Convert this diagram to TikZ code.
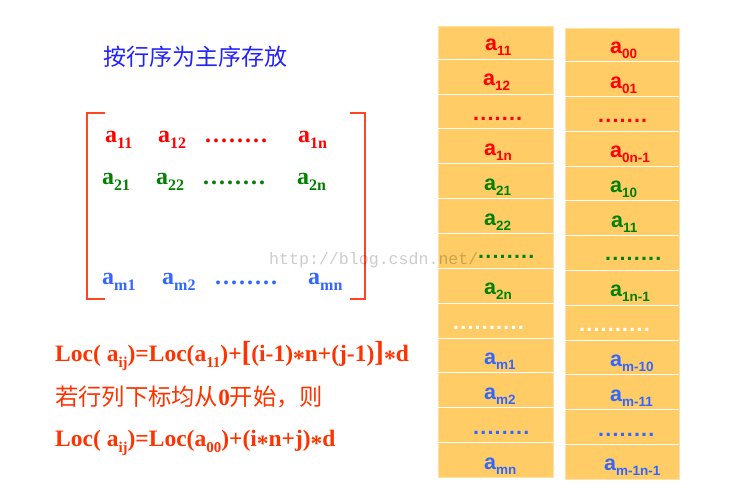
\documentclass[tikz,border=0pt]{standalone}
\usepackage{fontspec}
\usepackage{graphicx}
\setmainfont{Liberation Serif}
\newfontfamily\cjk{Noto Sans CJK SC}
\newfontfamily\arialf{Liberation Sans}
\newfontfamily\monof{Liberation Mono}
\definecolor{cred}{HTML}{FF0000}
\definecolor{cgreen}{HTML}{008000}
\definecolor{cblue}{HTML}{3366FF}
\definecolor{ctitle}{HTML}{2222FF}
\definecolor{cform}{HTML}{FF3300}
\definecolor{cbrack}{HTML}{FF4422}
\definecolor{ccell}{HTML}{FFCC66}
\definecolor{cedge}{HTML}{FFE0A8}
\newcommand\msub[1]{\raisebox{-6pt}{\fontsize{16}{16}\selectfont #1}}
\newcommand\csub[1]{\raisebox{-5pt}{\fontsize{13.5}{13.5}\selectfont #1}}
\newcommand\fsub[1]{\raisebox{-6pt}{\fontsize{15}{15}\selectfont #1}}
\newcommand\md{.\kern2pt}
\newcommand\pd{.\kern1.2pt}
\newcommand\stx{\raisebox{-0.18em}{*}}
\newcommand\bigbr[1]{{\fontsize{29}{29}\selectfont #1}}
\tikzset{
  mat/.style={anchor=base west, inner sep=0pt, font=\bfseries\fontsize{24}{24}\selectfont},
  col/.style={anchor=base west, inner sep=0pt, font=\arialf\bfseries\fontsize{21.5}{21.5}\selectfont},
  form/.style={anchor=base west, inner sep=0pt, text=cform, font=\bfseries\fontsize{23.5}{23.5}\selectfont},
  cellfill/.style={fill=ccell, draw=cedge, line width=0.8pt},
  sepline/.style={draw=white, line width=1pt},
  brack/.style={draw=cbrack, line width=1.8pt},
}
\begin{document}
\begin{tikzpicture}[x=1pt,y=-1pt]
\useasboundingbox (0,0) rectangle (729,502);
\fill[white] (0,0) rectangle (729,502);

% title
\node[anchor=west, inner sep=0pt, text=ctitle, font=\cjk\fontsize{23}{23}\selectfont] (title) at (103,57) {按行序为主序存放};

% matrix brackets
\coordinate (lbt) at (105,113);
\coordinate (lbb) at (105,299);
\coordinate (rbt) at (350,113);
\coordinate (rbb) at (350,299);
\draw[brack] (lbt) -- ++(-18,0) |- (lbb);
\draw[brack] (rbt) -- ++(15,0) |- (rbb);

% matrix entries
\node[mat, text=cred] (m11) at (105,143) {a\msub{11}};
\node[mat, text=cred] (m12) at (158,143) {a\msub{12}};
\node[mat, text=cred] (m1d) at (205,143) {\md\md\md\md\md\md\md.};
\node[mat, text=cred] (m1n) at (298,143) {a\msub{1n}};
\node[mat, text=cgreen] (m21) at (102,185) {a\msub{21}};
\node[mat, text=cgreen] (m22) at (156,185) {a\msub{22}};
\node[mat, text=cgreen] (m2d) at (203,185) {\md\md\md\md\md\md\md.};
\node[mat, text=cgreen] (m2n) at (297,185) {a\msub{2n}};
\node[mat, text=cblue] (mm1) at (102,285) {a\msub{m1}};
\node[mat, text=cblue] (mm2) at (162,285) {a\msub{m2}};
\node[mat, text=cblue] (mmd) at (215,285) {\md\md\md\md\md\md\md.};
\node[mat, text=cblue] (mmn) at (308,285) {a\msub{mn}};

% formulas
\node[form] (f1) at (55,362) {Loc( a\fsub{ij})=Loc(a\fsub{11})+\bigbr{[}(i-1)\stx n+(j-1)\bigbr{]}\stx d};
\node[anchor=base west, inner sep=0pt, text=cform, font=\cjk\fontsize{23.3}{23.3}\selectfont] (f2) at (55,406) {若行列下标均从{\rmfamily\bfseries 0}开始，则};
\node[form] (f3) at (55,447) {Loc( a\fsub{ij})=Loc(a\fsub{00})+(i\stx n+j)\stx d};

% left storage column
\filldraw[cellfill] (438,26) rectangle (553,477);
\foreach \k in {1,...,12} \draw[sepline] (438,{24.45+34.85*\k}) -- (553,{24.45+34.85*\k});
% right storage column
\filldraw[cellfill] (565,28) rectangle (679,479);
\foreach \k in {1,...,12} \draw[sepline] (565,{26.9+34.8*\k}) -- (679,{26.9+34.8*\k});

% left column texts
\node[col, text=cred]   (l0)  at (485,{50.9+34.85*0})  {a\csub{11}};
\node[col, text=cred]   (l1)  at (483,{50.9+34.85*1})  {a\csub{12}};
\node[col, text=cred]   (l2)  at (473,{50.9+34.85*2})  {\pd\pd\pd\pd\pd\pd.};
\node[col, text=cred]   (l3)  at (484,{50.9+34.85*3})  {a\csub{1n}};
\node[col, text=cgreen] (l4)  at (484,{50.9+34.85*4})  {a\csub{21}};
\node[col, text=cgreen] (l5)  at (484,{50.9+34.85*5})  {a\csub{22}};
\node[col, text=cgreen] (l6)  at (478,{49+34.85*6})    {\pd\pd\pd\pd\pd\pd\pd.};
\node[col, text=cgreen] (l7)  at (484,{50.9+34.85*7})  {a\csub{2n}};
\node[col, text=white]  (l8)  at (453,{50.9+34.85*8})  {\pd\pd\pd\pd\pd\pd\pd\pd\pd.};
\node[col, text=cblue]  (l9)  at (484,{50.9+34.85*9})  {a\csub{m1}};
\node[col, text=cblue]  (l10) at (484,{50.9+34.85*10}) {a\csub{m2}};
\node[col, text=cblue]  (l11) at (473,{50.9+34.85*11}) {\pd\pd\pd\pd\pd\pd\pd.};
\node[col, text=cblue]  (l12) at (484,{50.9+34.85*12}) {a\csub{mn}};

% right column texts
\node[col, text=cred]   (r0)  at (610,{53.3+34.8*0})  {a\csub{00}};
\node[col, text=cred]   (r1)  at (610,{53.3+34.8*1})  {a\csub{01}};
\node[col, text=cred]   (r2)  at (598,{53.3+34.8*2})  {\pd\pd\pd\pd\pd\pd.};
\node[col, text=cred]   (r3)  at (610,{53.3+34.8*3})  {a\csub{0n-1}};
\node[col, text=cgreen] (r4)  at (610,{53.3+34.8*4})  {a\csub{10}};
\node[col, text=cgreen] (r5)  at (611,{53.3+34.8*5})  {a\csub{11}};
\node[col, text=cgreen] (r6)  at (605,{51.5+34.8*6})  {\pd\pd\pd\pd\pd\pd\pd.};
\node[col, text=cgreen] (r7)  at (610,{53.3+34.8*7})  {a\csub{1n-1}};
\node[col, text=white]  (r8)  at (579,{53.3+34.8*8})  {\pd\pd\pd\pd\pd\pd\pd\pd\pd.};
\node[col, text=cblue]  (r9)  at (610,{53.3+34.8*9})  {a\csub{m-10}};
\node[col, text=cblue]  (r10) at (610,{53.3+34.8*10}) {a\csub{m-11}};
\node[col, text=cblue]  (r11) at (598,{53.3+34.8*11}) {\pd\pd\pd\pd\pd\pd\pd.};
\node[col, text=cblue]  (r12) at (604,{53.3+34.8*12}) {a\csub{m-1n-1}};

% watermark
\node[anchor=base west, inner sep=0pt, text=black, text opacity=0.2, font=\monof\fontsize{16.6}{16.6}\selectfont] (wm) at (269,265) {http://blog.csdn.net/};
\end{tikzpicture}
\end{document}
